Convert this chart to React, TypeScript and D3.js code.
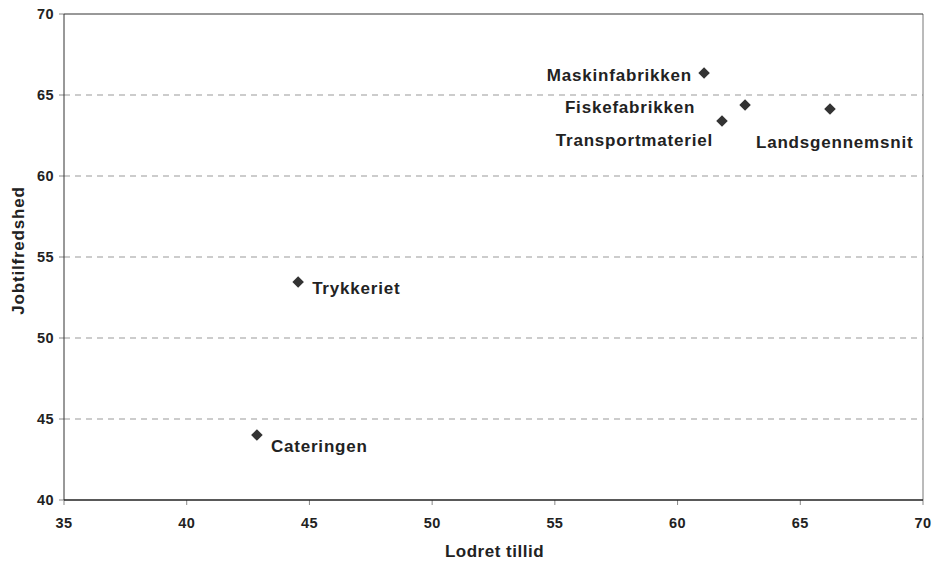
import React from "react";
import * as d3 from "d3";

const names = ["Maskinfabrikken", "Fiskefabrikken", "Transportmateriel", "Landsgennemsnit", "Trykkeriet", "Cateringen"];
const xValues = [61.08, 62.75, 61.81, 66.21, 44.54, 42.86];
const yValues = [66.36, 64.38, 63.4, 64.14, 53.46, 44.01];
const xTicks = [35, 40, 45, 50, 55, 60, 65, 70];
const yTicks = [40, 45, 50, 55, 60, 65, 70];

// label placement: [dx, dy, anchor]
const labelOffsets: [number, number, string][] = [
  [-12, 8, "end"],
  [-115, 8, "middle"],
  [-9, 25, "end"],
  [-74, 39, "start"],
  [14, 12, "start"],
  [14, 17, "start"],
];

const W = 935, H = 562;
const L = 64, R = 923, T = 14, B = 500;

export default function App() {
  const x = d3.scaleLinear().domain([35, 70]).range([L, R]);
  const y = d3.scaleLinear().domain([40, 70]).range([B, T]);
  const diamond = d3.symbol().type(d3.symbolDiamond2).size(85)();
  const font = "Arial, 'Liberation Sans', sans-serif";
  return (
    <svg width={W} height={H} style={{ position: "absolute", left: 0, top: 0 }} fontFamily={font}>
      <rect width={W} height={H} fill="#fff" />
      {yTicks.filter(t => t > 40 && t < 70).map(t => (
        <line key={t} x1={L} x2={R} y1={y(t)} y2={y(t)} stroke="#999" strokeDasharray="6,5" strokeWidth={1} />
      ))}
      {yTicks.map(t => (
        <g key={"yt" + t}>
          <line x1={L - 5} x2={L} y1={y(t)} y2={y(t)} stroke="#888" />
          <text x={L - 10} y={y(t)} dy="0.35em" textAnchor="end" fontSize={14.5} fontWeight="bold" letterSpacing={0.4} fill="#222">{t}</text>
        </g>
      ))}
      {xTicks.map(t => (
        <g key={"xt" + t}>
          <line x1={x(t)} x2={x(t)} y1={B} y2={B + 5} stroke="#888" />
          <text x={x(t)} y={B + 28} textAnchor="middle" fontSize={14.5} fontWeight="bold" letterSpacing={0.4} fill="#222">{t}</text>
        </g>
      ))}
      <line x1={R} x2={R} y1={T} y2={B} stroke="#777" strokeWidth={1} />
      <line x1={L} x2={R} y1={T} y2={T} stroke="#333" strokeWidth={1} />
      <line x1={L} x2={L} y1={T} y2={B} stroke="#333" strokeWidth={1} />
      <line x1={L} x2={R} y1={B} y2={B} stroke="#222" strokeWidth={1.5} />
      {names.map((n, i) => (
        <g key={n}>
          <path d={diamond || ""} transform={`translate(${x(xValues[i])},${y(yValues[i])})`} fill="#333" />
          <text x={x(xValues[i]) + labelOffsets[i][0]} y={y(yValues[i]) + labelOffsets[i][1]} textAnchor={labelOffsets[i][2] as any} fontSize={17} fontWeight="bold" letterSpacing={0.8} fill="#222">{n}</text>
        </g>
      ))}
      <text x={(L + R) / 2 + 1} y={557} textAnchor="middle" fontSize={17} fontWeight="bold" letterSpacing={0.5} fill="#222">Lodret tillid</text>
      <text transform={`translate(24,${(185 + 316) / 2}) rotate(-90)`} textAnchor="middle" fontSize={17} fontWeight="bold" letterSpacing={0.8} fill="#222">Jobtilfredshed</text>
    </svg>
  );
}
